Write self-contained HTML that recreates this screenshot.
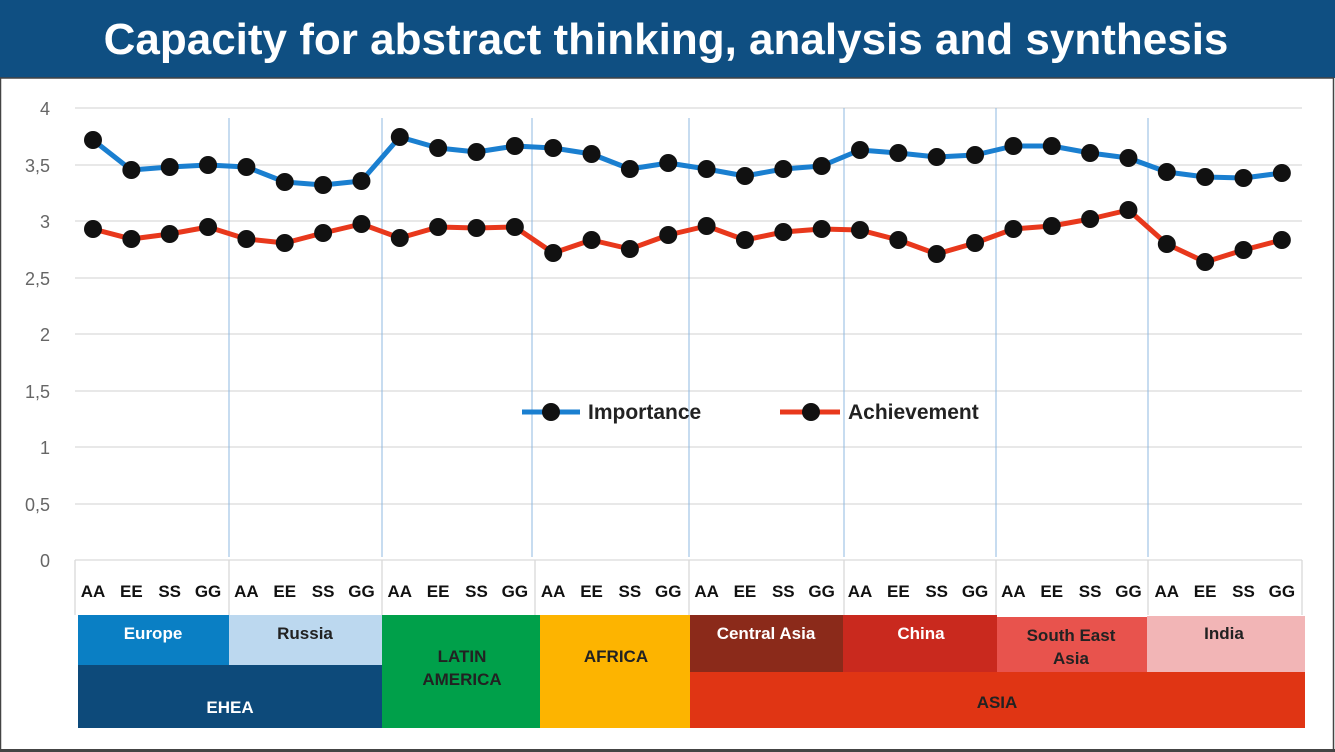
<!DOCTYPE html>
<html><head><meta charset="utf-8"><style>
html,body{margin:0;padding:0;background:#fff}
body{width:1335px;height:752px;overflow:hidden;position:relative;font-family:"Liberation Sans",sans-serif}
</style></head><body>
<svg width="1335" height="752" xmlns="http://www.w3.org/2000/svg" style="position:absolute;left:0;top:0">
<rect x="0" y="0" width="1335" height="752" fill="#fff"/>
<rect x="0" y="0" width="1335" height="78" fill="#0f4f82"/>
<text x="666" y="54" text-anchor="middle" font-family="Liberation Sans" font-weight="bold" font-size="44" fill="#fff">Capacity for abstract thinking, analysis and synthesis</text>
<rect x="0.5" y="78" width="1333" height="672" fill="none" stroke="#444" stroke-width="1.5"/>
<line x1="0" y1="750.5" x2="1335" y2="750.5" stroke="#444" stroke-width="3"/>
<g stroke="#d9d9d9" stroke-width="1.3">
<line x1="75" y1="108" x2="1302" y2="108"/><line x1="75" y1="165" x2="1302" y2="165"/>
<line x1="75" y1="221" x2="1302" y2="221"/><line x1="75" y1="278" x2="1302" y2="278"/>
<line x1="75" y1="334" x2="1302" y2="334"/><line x1="75" y1="391" x2="1302" y2="391"/>
<line x1="75" y1="447" x2="1302" y2="447"/><line x1="75" y1="504" x2="1302" y2="504"/>
<line x1="75" y1="560" x2="1302" y2="560"/>
<line x1="75" y1="560" x2="75" y2="615"/><line x1="1302" y1="560" x2="1302" y2="615"/>
<line x1="229" y1="560" x2="229" y2="615"/><line x1="382" y1="560" x2="382" y2="615"/>
<line x1="535" y1="560" x2="535" y2="615"/><line x1="689" y1="560" x2="689" y2="615"/>
<line x1="844" y1="560" x2="844" y2="615"/><line x1="996" y1="560" x2="996" y2="615"/>
<line x1="1148" y1="560" x2="1148" y2="615"/>
</g>
<g stroke="#8fb8e0" stroke-width="1">
<line x1="229" y1="118" x2="229" y2="557"/><line x1="382" y1="118" x2="382" y2="557"/>
<line x1="532" y1="118" x2="532" y2="557"/><line x1="689" y1="118" x2="689" y2="557"/>
<line x1="844" y1="108" x2="844" y2="557"/><line x1="996" y1="108" x2="996" y2="557"/>
<line x1="1148" y1="118" x2="1148" y2="557"/>
</g>
<g font-size="18" fill="#666" text-anchor="end" font-family="Liberation Sans">
<text x="50" y="115">4</text><text x="50" y="172">3,5</text><text x="50" y="228">3</text>
<text x="50" y="285">2,5</text><text x="50" y="341">2</text><text x="50" y="398">1,5</text>
<text x="50" y="454">1</text><text x="50" y="511">0,5</text><text x="50" y="567">0</text>
</g>
<g id="labels" font-size="17" font-weight="bold" fill="#111" text-anchor="middle" font-family="Liberation Sans"></g>
<polyline id="imp" fill="none" stroke="#1a7fd0" stroke-width="5" stroke-linejoin="round"/>
<polyline id="ach" fill="none" stroke="#e8381c" stroke-width="5" stroke-linejoin="round"/>
<g id="dots" fill="#111"></g>
<line x1="522" y1="412" x2="580" y2="412" stroke="#1a7fd0" stroke-width="5"/>
<circle cx="551" cy="412" r="9" fill="#111"/>
<text x="588" y="419" font-size="21" font-weight="bold" fill="#222">Importance</text>
<line x1="780" y1="412" x2="840" y2="412" stroke="#e8381c" stroke-width="5"/>
<circle cx="811" cy="412" r="9" fill="#111"/>
<text x="848" y="419" font-size="21" font-weight="bold" fill="#222">Achievement</text>
<g font-family="Liberation Sans" font-weight="bold" font-size="17" text-anchor="middle">
<rect x="78" y="615" width="151" height="50" fill="#0a7fc4"/>
<rect x="229" y="615" width="153" height="50" fill="#bcd8ef"/>
<rect x="78" y="665" width="304" height="63" fill="#0d4a7a"/>
<rect x="382" y="615" width="158" height="113" fill="#00a04a"/>
<rect x="540" y="615" width="150" height="113" fill="#fdb400"/>
<rect x="690" y="615" width="153" height="57" fill="#8b2a1a"/>
<rect x="843" y="615" width="154" height="57" fill="#c9291e"/>
<rect x="997" y="617" width="150" height="55" fill="#e8534d"/>
<rect x="1147" y="616" width="158" height="56" fill="#f2b5b6"/>
<rect x="690" y="672" width="615" height="56" fill="#e03514"/>
<text x="153" y="639" fill="#fff">Europe</text>
<text x="305" y="639" fill="#222">Russia</text>
<text x="230" y="713" fill="#fff">EHEA</text>
<text x="462" y="662" fill="#222">LATIN</text>
<text x="462" y="685" fill="#222">AMERICA</text>
<text x="616" y="662" fill="#222">AFRICA</text>
<text x="766" y="639" fill="#fff">Central Asia</text>
<text x="921" y="639" fill="#fff">China</text>
<text x="1071" y="641" fill="#222">South East</text>
<text x="1071" y="664" fill="#222">Asia</text>
<text x="1224" y="639" fill="#222">India</text>
<text x="997" y="708" fill="#222">ASIA</text>
</g>
</svg>
<script>
var imp=[140,170,167,165,167,182,185,181,137,148,152,146,148,154,169,163,169,176,169,166,150,153,157,155,146,146,153,158,172,177,178,173];
var ach=[229,239,234,227,239,243,233,224,238,227,228,227,253,240,249,235,226,240,232,229,230,240,254,243,229,226,219,210,244,262,250,240];
var xs=[];for(var i=0;i<32;i++)xs.push(93+i*38.35);
function pts(a){return a.map(function(y,i){return xs[i].toFixed(1)+","+y}).join(" ")}
document.getElementById('imp').setAttribute('points',pts(imp));
document.getElementById('ach').setAttribute('points',pts(ach));
var d=document.getElementById('dots'),L=document.getElementById('labels'),ns="http://www.w3.org/2000/svg";
var lab=["AA","EE","SS","GG"];
for(var i=0;i<32;i++){[imp[i],ach[i]].forEach(function(y){var c=document.createElementNS(ns,'circle');c.setAttribute('cx',xs[i]);c.setAttribute('cy',y);c.setAttribute('r',9);d.appendChild(c);});
var t=document.createElementNS(ns,'text');t.setAttribute('x',xs[i]);t.setAttribute('y',597);t.textContent=lab[i%4];L.appendChild(t);}
</script>
</body></html>
